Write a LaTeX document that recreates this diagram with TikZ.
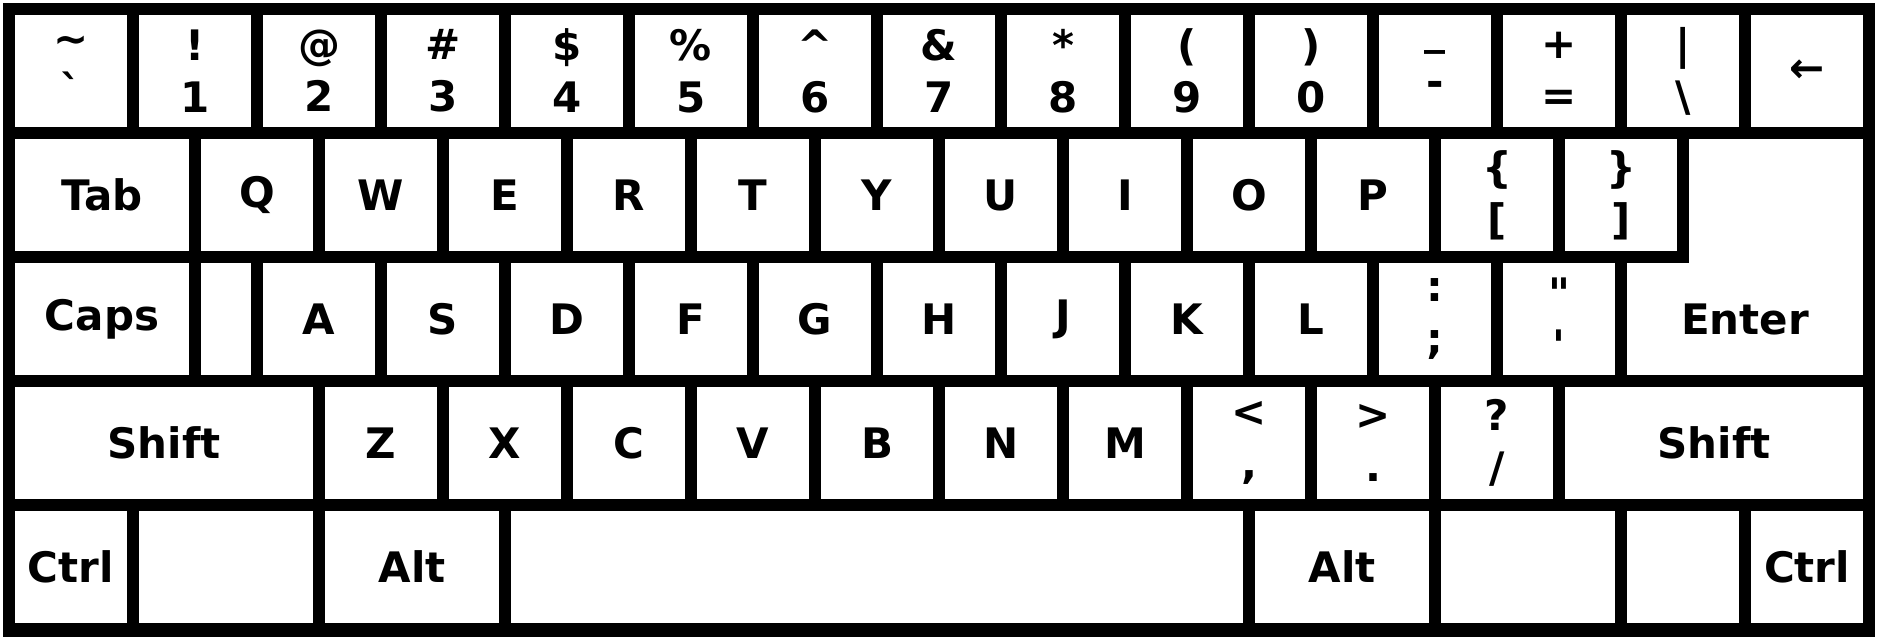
\documentclass[tikz,border=0pt]{standalone}
\usepackage{fontspec}
\setmainfont{DejaVu Sans}
\usetikzlibrary{positioning}
\tikzset{
    key/.style={fill=white, inner sep=0pt, outer sep=0pt, minimum height=56pt,
        minimum width={#1*62pt-6pt}, align=center,
        font=\bfseries\fontsize{21}{26}\selectfont}, % one key cap, #1 = width in key units
    key/.default=1,
    node distance=6pt, % the black gap between two keys
}
\begin{document}
\begin{tikzpicture}
    \useasboundingbox[fill=white] (0pt,0pt) rectangle (940.5pt,-320.5pt);
    \fill[black] (1.5pt,-1.5pt) rectangle (937.5pt,-318.5pt);
    % number row
    \node[key, anchor=north west] (tilde) at (7.5pt,-7.5pt) {\textasciitilde\\\textasciigrave};
    \foreach \s/\d [count=\i] in {!/1,@/2,\#/3,\$/4,\%/5,\textasciicircum/6,\&/7,*/8,{(}/9,{)}/0}
        \node[key, anchor=north west] (n\d) at ({7.5pt+\i*62pt},-7.5pt) {\s\\\d};
    \node[key, right=of n0] (minus) {\_\\-};
    \node[key, right=of minus] (equal) {+\\=};
    \node[key, right=of equal] (bslash) {|\\\textbackslash};
    \node[key, right=of bslash] (bksp) {←};
    % top letter row
    \node[key=1.5, anchor=north west] (tab) at (7.5pt,-69.5pt) {Tab};
    \foreach \c [remember=\c as \p (initially tab)] in {Q,W,E,R,T,Y,U,I,O,P}
        \node[key, right=of \p] (\c) {\c};
    \node[key, right=of P] (lbrack) {\{\\{[}};
    \node[key, right=of lbrack] (rbrack) {\}\\{]}};
    % home row
    \node[key=1.5, anchor=north west] (caps) at (7.5pt,-131.5pt) {Caps};
    \node[key=0.5, right=of caps] (capsgap) {};
    \foreach \c [remember=\c as \p (initially capsgap)] in {A,S,D,F,G,H,J,K,L}
        \node[key, right=of \p] (\c) {\c};
    \node[key, right=of L] (semi) {:\\;};
    \node[key, right=of semi] (quote) {\textquotedbl\\\textquotesingle};
    \node[key=2, right=of quote] (enter) {Enter};
    \fill[white] ([xshift=6pt]rbrack.north east) rectangle (enter.north east);
    % bottom letter row
    \node[key=2.5, anchor=north west] (lshift) at (7.5pt,-193.5pt) {Shift};
    \foreach \c [remember=\c as \p (initially lshift)] in {Z,X,C,V,B,N,M}
        \node[key, right=of \p] (\c) {\c};
    \node[key, right=of M] (comma) {<\\,};
    \node[key, right=of comma] (period) {>\\.};
    \node[key, right=of period] (slash) {?\\/};
    \node[key=2.5, right=of slash] (rshift) {Shift};
    % space row
    \node[key, anchor=north west] (lctrl) at (7.5pt,-255.5pt) {Ctrl};
    \node[key=1.5, right=of lctrl] (lwin) {};
    \node[key=1.5, right=of lwin] (lalt) {Alt};
    \node[key=6, right=of lalt] (space) {};
    \node[key=1.5, right=of space] (ralt) {Alt};
    \node[key=1.5, right=of ralt] (rwin) {};
    \node[key, right=of rwin] (menu) {};
    \node[key, right=of menu] (rctrl) {Ctrl};
\end{tikzpicture}
\end{document}
